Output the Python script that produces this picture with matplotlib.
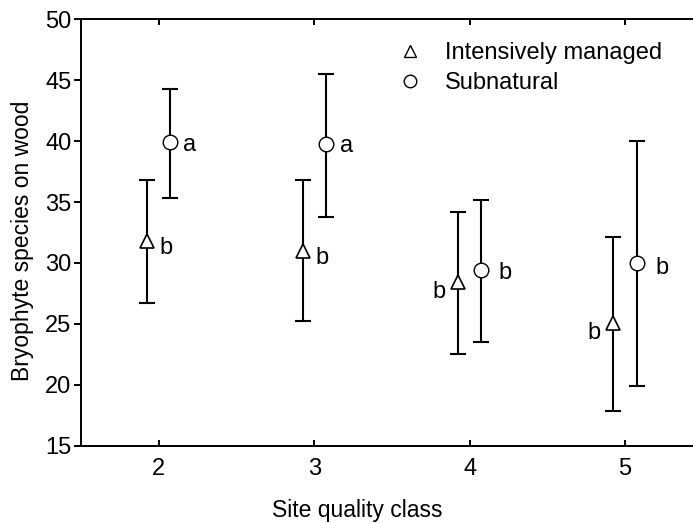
import numpy as np
import matplotlib.pyplot as plt

plt.rcParams['font.family'] = ['Liberation Sans', 'DejaVu Sans']

site_class = np.array([2, 3, 4, 5])

# Intensively managed (triangles)
im_mean = np.array([31.8, 31.0, 28.4, 25.1])
im_low = np.array([26.7, 25.2, 22.5, 17.8])
im_high = np.array([36.8, 36.8, 34.2, 32.1])
im_letters = ['b', 'b', 'b', 'b']

# Subnatural (circles)
sn_mean = np.array([39.9, 39.8, 29.4, 30.0])
sn_low = np.array([35.3, 33.8, 23.5, 19.9])
sn_high = np.array([44.3, 45.5, 35.2, 40.0])
sn_letters = ['a', 'a', 'b', 'b']

fs = 17

fig = plt.figure(figsize=(6.93, 5.23), dpi=100)
ax = fig.add_axes([0.117, 0.148, 0.897, 0.815])

off = 0.075
x_im = site_class - off
x_sn = site_class + off

ax.errorbar(x_im, im_mean, yerr=[im_mean - im_low, im_high - im_mean],
            fmt='none', ecolor='black', elinewidth=1.5, capsize=6, capthick=1.5, zorder=2)
ax.errorbar(x_sn, sn_mean, yerr=[sn_mean - sn_low, sn_high - sn_mean],
            fmt='none', ecolor='black', elinewidth=1.5, capsize=6, capthick=1.5, zorder=2)
ax.plot(x_im, im_mean, '^', ms=10.5, mfc='white', mec='black', mew=1.2, zorder=3)
ax.plot(x_sn, sn_mean, 'o', ms=10.5, mfc='white', mec='black', mew=1.0, zorder=3)

# significance letters
im_off = [(19, -7), (19, -7), (-19, -10), (-19, -10)]
sn_off = [(19, -3), (21, -2), (24, -3), (25, -5)]
for i in range(4):
    ax.annotate(im_letters[i], (x_im[i], im_mean[i]), xytext=im_off[i],
                textcoords='offset pixels', ha='center', va='center', fontsize=fs)
    ax.annotate(sn_letters[i], (x_sn[i], sn_mean[i]), xytext=sn_off[i],
                textcoords='offset pixels', ha='center', va='center', fontsize=fs)

ax.set_xlim(1.5, 5.5)
ax.set_ylim(15, 50)
ax.set_xticks(site_class)
ax.set_yticks(np.arange(15, 51, 5))
ax.tick_params(axis='x', direction='in', top=True, length=4, width=1.4, pad=9, labelsize=fs)
ax.tick_params(axis='y', direction='out', length=5, width=1.4, pad=2, labelsize=fs)
for s in ax.spines.values():
    s.set_linewidth(1.4)

ax.set_xlabel('Site quality class', fontsize=16.5)
ax.xaxis.set_label_coords(0.444, -0.125)
ax.set_ylabel('Bryophyte species on wood', fontsize=16.5)
ax.yaxis.set_label_coords(-0.076, 0.48)

# legend
h1, = ax.plot([], [], '^', ms=9, mfc='white', mec='black', mew=1.0, ls='none')
h2, = ax.plot([], [], 'o', ms=9, mfc='white', mec='black', mew=1.0, ls='none')
lgd = ax.legend([h1, h2], ['Intensively managed', 'Subnatural'], loc='upper left',
                bbox_to_anchor=(398 / 693, 1 - 42 / 523), bbox_transform=fig.transFigure,
                frameon=False, fontsize=fs, handlelength=1.0, handletextpad=1.0,
                labelspacing=0.35, borderaxespad=0, borderpad=0)

plt.savefig('out.png', dpi=100)
